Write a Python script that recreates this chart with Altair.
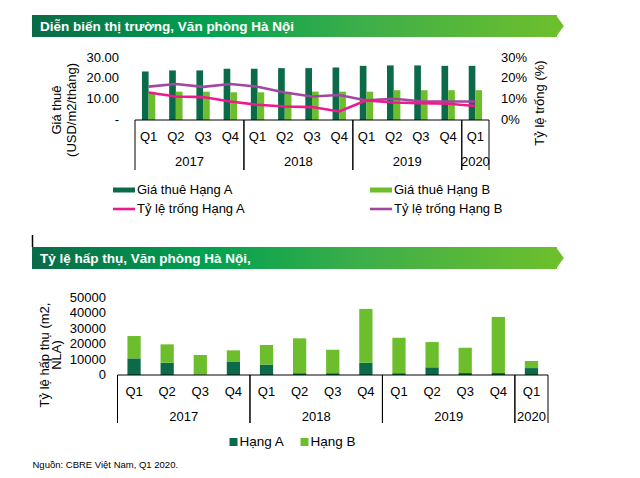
import altair as alt
import pandas as pd

# ---- data -----------------------------------------------------------------
years = ["2017", "2017", "2017", "2017", "2018", "2018", "2018", "2018",
         "2019", "2019", "2019", "2019", "2020"]
quarters = ["Q1", "Q2", "Q3", "Q4", "Q1", "Q2", "Q3", "Q4",
            "Q1", "Q2", "Q3", "Q4", "Q1"]

# rents, USD/m2/month
rent_a = [23.3, 23.8, 23.8, 24.6, 24.6, 24.9, 24.9, 25.2, 26.0, 26.2, 26.2, 26.0, 26.0]
rent_b = [13.5, 13.6, 13.6, 13.3, 13.3, 13.5, 13.6, 13.6, 13.6, 14.3, 14.3, 14.3, 14.3]
# vacancy rates
vacancy_a = [0.132, 0.113, 0.110, 0.089, 0.073, 0.065, 0.062, 0.041,
             0.094, 0.084, 0.081, 0.078, 0.067]
vacancy_b = [0.160, 0.173, 0.159, 0.173, 0.160, 0.132, 0.113, 0.120,
             0.094, 0.102, 0.090, 0.089, 0.089]
# net absorption, m2 NLA
absorb_a = [10800, 8000, 300, 8800, 6800, 1200, 1200, 8000, 1200, 5000, 1300, 1300, 4500]
absorb_b = [14500, 11900, 12700, 7200, 12700, 22600, 15200, 34900, 23000, 16400, 16400, 36400, 4600]

rent_ticks = [0, 10, 20, 30]
rent_tick_text = ["-\u2007\u2009", "10.00", "20.00", "30.00"]
vacancy_ticks = [0, 0.1, 0.2, 0.3]
vacancy_tick_text = ["0%", "10%", "20%", "30%"]
absorb_ticks = [0, 10000, 20000, 30000, 40000, 50000]
absorb_tick_text = ["0", "10000", "20000", "30000", "40000", "50000"]

title_top = "Diễn biến thị trường, Văn phòng Hà Nội"
title_bottom = "Tỷ lệ hấp thụ, Văn phòng Hà Nội,"
rent_names = ["Giá thuê Hạng A", "Giá thuê Hạng B"]
vacancy_names = ["Tỷ lệ trống Hạng A", "Tỷ lệ trống Hạng B"]
absorb_names = ["Hạng A", "Hạng B"]
source_text = "Nguồn: CBRE Việt Nam, Q1 2020."

# ---- styling --------------------------------------------------------------
FONT = "Liberation Sans"
DARK = "#0B6B48"
LIGHT = "#6CBE2C"
PINK = "#EE1A8C"
PURPLE = "#A1479F"

periods = pd.DataFrame({"year": years, "quarter": quarters, "idx": list(range(len(years)))})
periods["period"] = periods["year"] + " " + periods["quarter"]
period_keys = list(periods["period"])

rent_long = pd.concat([
    pd.DataFrame({"period": period_keys, "series": rent_names[0], "value": rent_a}),
    pd.DataFrame({"period": period_keys, "series": rent_names[1], "value": rent_b}),
])
vac_a_df = pd.DataFrame({"period": period_keys, "value": vacancy_a})
vac_b_df = pd.DataFrame({"period": period_keys, "value": vacancy_b})
absorb_long = pd.concat([
    pd.DataFrame({"period": period_keys, "series": absorb_names[0], "rank": 0, "value": absorb_a}),
    pd.DataFrame({"period": period_keys, "series": absorb_names[1], "rank": 1, "value": absorb_b}),
])
one = pd.DataFrame({"k": [0]})

# pixel extents of the two panels
TOP_X = [135, 489]
TOP_Y = [120, 57.5]
BOT_X = [117.5, 548]
BOT_Y = [375, 298]


def band(rng, pad):
    return alt.Scale(domain=period_keys, range=rng, paddingInner=pad, paddingOuter=pad / 2)


def lin(domain, rng):
    return alt.Scale(domain=domain, range=rng, nice=False, zero=False)


def text(**kw):
    base = dict(font=FONT, fontSize=13, color="#000000", baseline="middle")
    base.update(kw)
    return base


def banner(y0, y1, label):
    grad = alt.Gradient(
        gradient="linear",
        stops=[alt.GradientStop(color="#0A6A47", offset=0),
               alt.GradientStop(color="#00A150", offset=0.33),
               alt.GradientStop(color="#3CAE4A", offset=0.62),
               alt.GradientStop(color="#6DBF2C", offset=1)],
        x1=0, x2=1, y1=0, y2=0)
    body = alt.Chart(one).mark_rect(color=grad).encode(
        x=alt.value(32), x2=alt.value(557), y=alt.value(y0), y2=alt.value(y1))
    h = y1 - y0
    tip = alt.Chart(one).mark_point(
        shape="M-0.1,-1L0.62,0L-0.1,1Z", filled=True, opacity=1,
        color="#6DBF2C", size=h * h, strokeWidth=0).encode(
        x=alt.value(557), y=alt.value((y0 + y1) / 2))
    words = alt.Chart(one).mark_text(**text(align="left", color="white", fontWeight="bold",
                                            fontSize=13.5, text=label)).encode(
        x=alt.value(40), y=alt.value((y0 + y1) / 2 + 0.5))
    return [body, tip, words]


def category_axis(xr, pad, line_top, line_bottom, q_y, year_y):
    b = band(xr, pad)
    s = lin([0, len(period_keys)], xr)
    q_labels = alt.Chart(periods).mark_text(**text(align="center")).encode(
        x=alt.X("period:N", scale=b, axis=None), y=alt.value(q_y), text="quarter:N")
    groups = alt.Chart(periods).transform_aggregate(
        lo="min(idx)", hi="max(idx)", groupby=["year"]
    ).transform_calculate(end="datum.hi + 1", mid="(datum.lo + datum.hi + 1) / 2")
    edges = groups.transform_fold(["lo", "end"], as_=["edge", "pos"]).mark_rule(
        color="#000000", strokeWidth=1).encode(
        x=alt.X("pos:Q", scale=s, axis=None), y=alt.value(line_top), y2=alt.value(line_bottom))
    y_labels = groups.mark_text(**text(align="center")).encode(
        x=alt.X("mid:Q", scale=s, axis=None), y=alt.value(year_y), text="year:N")
    baseline = alt.Chart(periods).transform_aggregate(
        lo="min(idx)", hi="max(idx)"
    ).transform_calculate(end="datum.hi + 1").mark_rule(color="#000000", strokeWidth=1).encode(
        x=alt.X("lo:Q", scale=s, axis=None), x2="end:Q", y=alt.value(line_top))
    return [q_labels, edges, y_labels, baseline]


def tick_labels(values, labels, scale, x, align):
    df = pd.DataFrame({"v": values, "t": labels})
    return alt.Chart(df).mark_text(**text(align=align)).encode(
        y=alt.Y("v:Q", scale=scale, axis=None), x=alt.value(x), text="t:N")


layers = []

# ---- panel 1: rents and vacancy ----------------------------------------
layers += banner(15, 37, title_top)

rent_scale = lin([0, 30], TOP_Y)
vac_scale = lin([0, 0.3], TOP_Y)

layers.append(alt.Chart(rent_long).mark_bar().encode(
    x=alt.X("period:N", scale=band(TOP_X, 0.51), axis=None),
    xOffset=alt.XOffset("series:N", scale=alt.Scale(domain=rent_names, paddingInner=0, paddingOuter=0)),
    y=alt.Y("value:Q", scale=rent_scale, axis=None),
    color=alt.Color("series:N", scale=alt.Scale(domain=rent_names, range=[DARK, LIGHT]), legend=None),
))
for df, col in [(vac_b_df, PURPLE), (vac_a_df, PINK)]:
    layers.append(alt.Chart(df).mark_line(color=col, strokeWidth=2.6).encode(
        x=alt.X("period:N", scale=band(TOP_X, 0.51), axis=None),
        y=alt.Y("value:Q", scale=vac_scale, axis=None),
    ))

layers += category_axis(TOP_X, 0.51, 120, 170, 137, 162)
layers.append(tick_labels(rent_ticks, rent_tick_text, rent_scale, 119, "right"))
layers.append(tick_labels(vacancy_ticks, vacancy_tick_text, vac_scale, 501, "left"))

layers.append(alt.Chart(one).mark_text(**text(align="center", angle=270, lineHeight=15,
                                              text=["Giá thuê", "(USD/m2/tháng)"])).encode(
    x=alt.value(56.5), y=alt.value(110)))
layers.append(alt.Chart(one).mark_text(**text(align="center", angle=270, text="Tỷ lệ trống (%)")).encode(
    x=alt.value(540), y=alt.value(103)))

# legend of panel 1
for name, col, x0, y0 in [(rent_names[0], DARK, 113, 190), (rent_names[1], LIGHT, 370, 190)]:
    layers.append(alt.Chart(one).mark_rect(color=col).encode(
        x=alt.value(x0), x2=alt.value(x0 + 22), y=alt.value(y0 - 2.5), y2=alt.value(y0 + 2.5)))
    layers.append(alt.Chart(one).mark_text(**text(align="left", fontSize=13, text=name)).encode(
        x=alt.value(x0 + 24), y=alt.value(y0)))
for name, col, x0, y0 in [(vacancy_names[0], PINK, 113, 209), (vacancy_names[1], PURPLE, 370, 209)]:
    layers.append(alt.Chart(one).mark_rule(color=col, strokeWidth=2.6).encode(
        x=alt.value(x0), x2=alt.value(x0 + 22), y=alt.value(y0)))
    layers.append(alt.Chart(one).mark_text(**text(align="left", fontSize=13, text=name)).encode(
        x=alt.value(x0 + 24), y=alt.value(y0)))

# ---- panel 2: absorption -------------------------------------------------
layers.append(alt.Chart(one).mark_rule(color="#000000", strokeWidth=1.5).encode(
    x=alt.value(32.5), y=alt.value(235), y2=alt.value(247)))
layers += banner(247, 269, title_bottom)

abs_scale = lin([0, 50000], BOT_Y)
layers.append(alt.Chart(absorb_long).mark_bar().encode(
    x=alt.X("period:N", scale=band(BOT_X, 0.6), axis=None),
    y=alt.Y("value:Q", scale=abs_scale, axis=None, stack="zero"),
    color=alt.Color("series:N", scale=alt.Scale(domain=absorb_names, range=[DARK, LIGHT]), legend=None),
    order=alt.Order("rank:Q"),
))
layers += category_axis(BOT_X, 0.6, 375, 423, 392, 417)
layers.append(tick_labels(absorb_ticks, absorb_tick_text, abs_scale, 106, "right"))
layers.append(alt.Chart(one).mark_text(**text(align="center", angle=270, lineHeight=12,
                                              text=["Tỷ lệ hấp thụ (m2,", "NLA)"])).encode(
    x=alt.value(44.5), y=alt.value(355)))

for name, col, x0 in [(absorb_names[0], DARK, 229.5), (absorb_names[1], LIGHT, 300.5)]:
    layers.append(alt.Chart(one).mark_rect(color=col).encode(
        x=alt.value(x0), x2=alt.value(x0 + 8), y=alt.value(438), y2=alt.value(446)))
    layers.append(alt.Chart(one).mark_text(**text(align="left", fontSize=13.5, text=name)).encode(
        x=alt.value(x0 + 10), y=alt.value(442)))

layers.append(alt.Chart(one).mark_text(**text(align="left", fontSize=9.5, text=source_text)).encode(
    x=alt.value(32.5), y=alt.value(465)))

chart = alt.layer(*layers).resolve_scale(
    x="independent", y="independent", color="independent", xOffset="independent"
).properties(
    width=640, height=478, padding=0, background="white",
    autosize=alt.AutoSizeParams(type="none"),
).configure_view(stroke=None)

chart.save("out.html", embed_options={"renderer": "svg", "actions": False})
